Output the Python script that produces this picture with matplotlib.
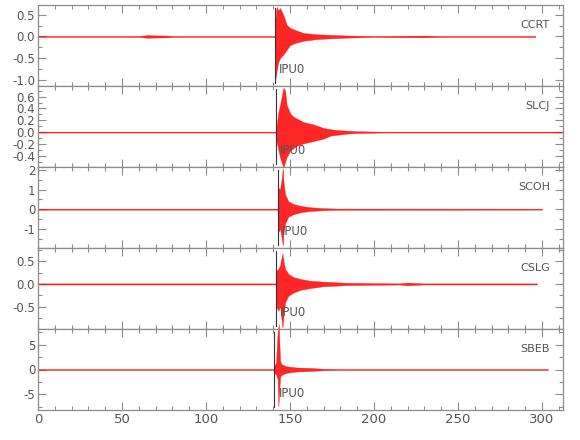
import numpy as np
import matplotlib
matplotlib.use("Agg")
import matplotlib.pyplot as plt
from matplotlib.ticker import MultipleLocator, FormatStrFormatter

plt.rcParams['font.family'] = ['DejaVu Sans']

# station traces, described by the upper / lower envelope
stations = ["CCRT", "SLCJ", "SCOH", "CSLG", "SBEB"]
picks = [141.1, 141.7, 142.7, 141.7, 140.7]

ccrt_t = [0, 60, 65, 70, 77, 80, 140.9, 141.2, 142, 143, 144, 146, 148, 150, 153, 158, 166, 175, 185, 200, 229, 240, 296]
ccrt_up = [0.012, 0.012, 0.03, 0.025, 0.02, 0.012, 0.012, 0.3, 0.69, 0.6, 0.66, 0.5, 0.27, 0.2, 0.15, 0.08, 0.05, 0.035, 0.02, 0.012, 0.02, 0.012, 0.012]
ccrt_lo = [-0.012, -0.012, -0.03, -0.025, -0.02, -0.012, -0.012, -1.03, -0.8, -0.6, -0.5, -0.42, -0.31, -0.2, -0.15, -0.1, -0.06, -0.04, -0.025, -0.012, -0.02, -0.012, -0.012]

slcj_t = [0, 141.6, 142.1, 143.1, 144.1, 146.1, 147.1, 148.0, 150.0, 152.0, 154.0, 158.0, 163.9, 169.9, 173.8, 177.8, 183.8, 189.7, 203.6, 312]
slcj_up = [0.008, 0.008, 0.11, 0.34, 0.46, 0.75, 0.7, 0.46, 0.32, 0.26, 0.23, 0.17, 0.13, 0.07, 0.05, 0.035, 0.025, 0.015, 0.008, 0.008]
slcj_lo = [-0.008, -0.008, -0.17, -0.3, -0.43, -0.6, -0.5, -0.42, -0.32, -0.27, -0.23, -0.19, -0.15, -0.11, -0.06, -0.045, -0.025, -0.015, -0.008, -0.008]

scoh_t = [0, 142.6, 143.1, 144.1, 145.1, 145.7, 146.1, 147.1, 149.0, 152.0, 156.0, 161.9, 169.9, 177.8, 300]
scoh_up = [0.025, 0.025, 1.08, 1.0, 1.6, 2.08, 1.4, 0.74, 0.4, 0.26, 0.17, 0.1, 0.05, 0.03, 0.025]
scoh_lo = [-0.025, -0.025, -1.15, -1.0, -1.5, -1.84, -1.2, -0.72, -0.38, -0.26, -0.16, -0.09, -0.05, -0.03, -0.025]

cslg_t = [0, 141.6, 142.1, 143.1, 144.1, 145.5, 146.1, 147.1, 149.0, 152.0, 156.0, 161.9, 169.9, 183.8, 215, 220, 229, 297]
cslg_up = [0.012, 0.012, 0.3, 0.33, 0.41, 0.67, 0.5, 0.33, 0.22, 0.15, 0.11, 0.07, 0.05, 0.025, 0.012, 0.03, 0.012, 0.012]
cslg_lo = [-0.012, -0.012, -0.52, -0.59, -0.48, -0.96, -0.7, -0.4, -0.26, -0.19, -0.13, -0.09, -0.05, -0.025, -0.012, -0.03, -0.012, -0.012]

sbeb_t = [0, 140.6, 140.7, 141.7, 142.7, 143.1, 143.3, 143.7, 144.1, 145.1, 146.1, 147.1, 150.0, 154.0, 161.9, 169.9, 180, 303.5]
sbeb_up = [0.1, 0.1, 0.7, 1.4, 7.9, 8.5, 9.2, 5.0, 1.7, 1.0, 0.9, 0.7, 0.55, 0.4, 0.3, 0.15, 0.1, 0.1]
sbeb_lo = [-0.1, -0.1, -0.7, -1.0, -2.0, -7.5, -6.0, -3.8, -1.4, -1.1, -0.9, -0.75, -0.55, -0.4, -0.3, -0.15, -0.1, -0.1]

times = [ccrt_t, slcj_t, scoh_t, cslg_t, sbeb_t]
uppers = [ccrt_up, slcj_up, scoh_up, cslg_up, sbeb_up]
lowers = [ccrt_lo, slcj_lo, scoh_lo, cslg_lo, sbeb_lo]

ylims = [(-1.15, 0.73), (-0.59, 0.78), (-1.98, 2.15), (-0.99, 0.79), (-8.2, 8.2)]
ymajor = [0.5, 0.2, 1.0, 0.5, 5.0]
yminor = [0.25, 0.1, 0.5, 0.25, 2.5]
yfmt = ["%.1f", "%.1f", "%d", "%.1f", "%d"]

GREY = "#8c8c8c"
TEXT = "#555555"

fig, axes = plt.subplots(5, 1, figsize=(5.8, 4.4), dpi=100, sharex=True)
fig.subplots_adjust(left=38 / 580, right=563 / 580, top=1 - 5 / 440, bottom=1 - 410 / 440, hspace=0)

for i, ax in enumerate(axes):
    ax.fill_between(times[i], lowers[i], uppers[i], color="#ff0000", lw=0.3,
                    alpha=0.85, clip_on=False, zorder=2)
    ax.axvline(picks[i], ymin=0.04, ymax=0.96, color="#333333", lw=0.8, zorder=3)
    ax.text(picks[i] + 2.5, 0.2, "IPU0", transform=ax.get_xaxis_transform(),
            ha="left", va="center", fontsize=8.5, color=TEXT)
    ax.text(0.975, 0.75, stations[i], transform=ax.transAxes,
            ha="right", va="center", fontsize=8, color=TEXT)

    ax.set_xlim(0, 312.5)
    ax.set_ylim(*ylims[i])
    ax.xaxis.set_major_locator(MultipleLocator(50))
    ax.xaxis.set_minor_locator(MultipleLocator(10))
    ax.yaxis.set_major_locator(MultipleLocator(ymajor[i]))
    ax.yaxis.set_minor_locator(MultipleLocator(yminor[i]))
    ax.yaxis.set_major_formatter(FormatStrFormatter(yfmt[i]))
    ax.tick_params(which="both", direction="in", top=True, right=True,
                   color=GREY, labelcolor=TEXT, width=0.8)
    ax.tick_params(axis="y", labelsize=8.5)
    ax.tick_params(axis="x", labelsize=9.5)
    ax.tick_params(which="major", length=5.8, pad=2)
    ax.tick_params(which="minor", length=3.2)
    for s in ax.spines.values():
        s.set_color(GREY)
        s.set_linewidth(0.9)

fig.savefig("out.png", dpi=100)
